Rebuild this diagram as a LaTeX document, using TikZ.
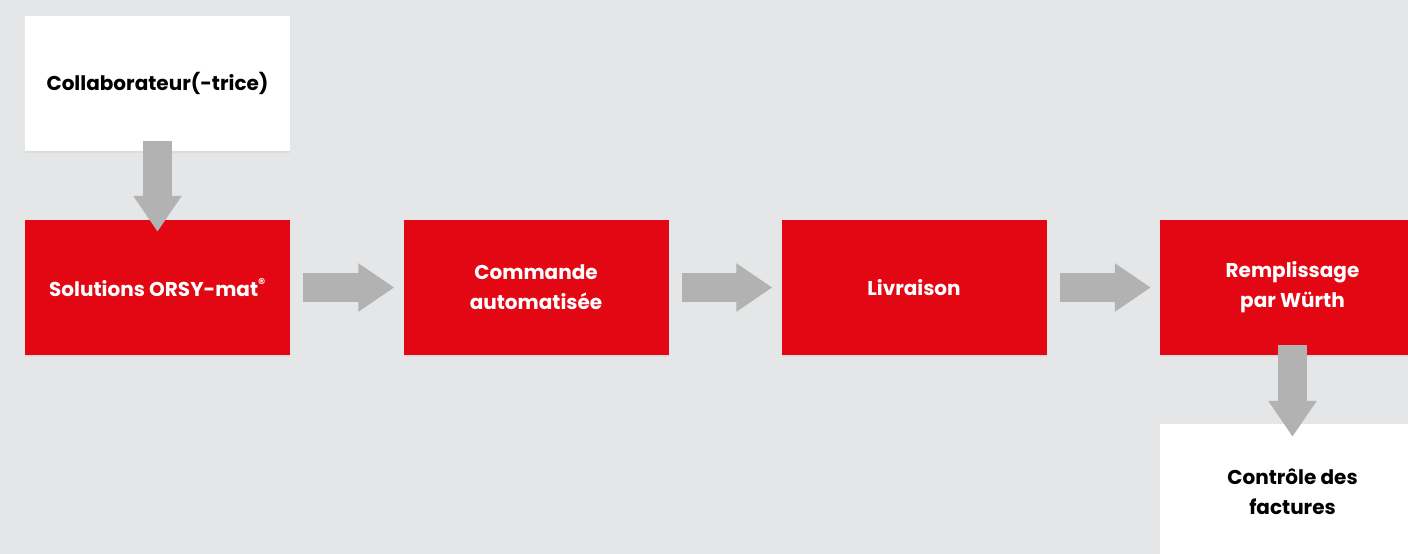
\documentclass[tikz,border=0pt]{standalone}
\usepackage{fontspec}
\setmainfont{Poppins}
\usetikzlibrary{arrows.meta,shadows}
\definecolor{wred}{RGB}{227,6,19}
\definecolor{wgray}{RGB}{178,178,178}
\definecolor{bg}{RGB}{229,230,231}
\begin{document}
\begin{tikzpicture}[x=1pt,y=-1pt,
  box/.style={minimum width=265pt,minimum height=135pt,inner sep=0pt,align=center,
    font=\fontsize{20}{30}\selectfont\bfseries,
    drop shadow={opacity=0.10,shadow xshift=0pt,shadow yshift=-2pt}},
  redbox/.style={box,fill=wred,text=white},
  whitebox/.style={box,fill=white,text=black},
  flow/.style={draw=wgray,line width=29pt,-{Triangle[length=36pt,width=46pt]},fill=wgray}]
\useasboundingbox (0,0) rectangle (1408,554);
\clip (0,0) rectangle (1408,554);
\fill[bg] (0,0) rectangle (1408,554);
\node[whitebox] (collab) at (157.5,83.5) {Collaborateur(-trice)};
\node[redbox] (orsy) at (157.5,287.5) {Solutions ORSY-mat\textsuperscript{\textregistered}};
\node[redbox] (cmd) at (536,287.5) {Commande\\automatisée};
\node[redbox] (liv) at (914,287.5) {Livraison};
\node[redbox] (rempl) at (1292.5,287.5) {Remplissage\\par Würth};
\node[whitebox] (ctrl) at (1292.5,491.5) {Contrôle des\\factures};
\draw[flow] ([yshift=10pt]collab.south) -- ([yshift=-12pt]orsy.north);
\draw[flow] ([xshift=13pt]orsy.east) -- ([xshift=-9pt]cmd.west);
\draw[flow] ([xshift=13pt]cmd.east) -- ([xshift=-9pt]liv.west);
\draw[flow] ([xshift=13pt]liv.east) -- ([xshift=-9pt]rempl.west);
\draw[flow] ([yshift=10pt]rempl.south) -- ([yshift=-13pt]ctrl.north);
\end{tikzpicture}
\end{document}
